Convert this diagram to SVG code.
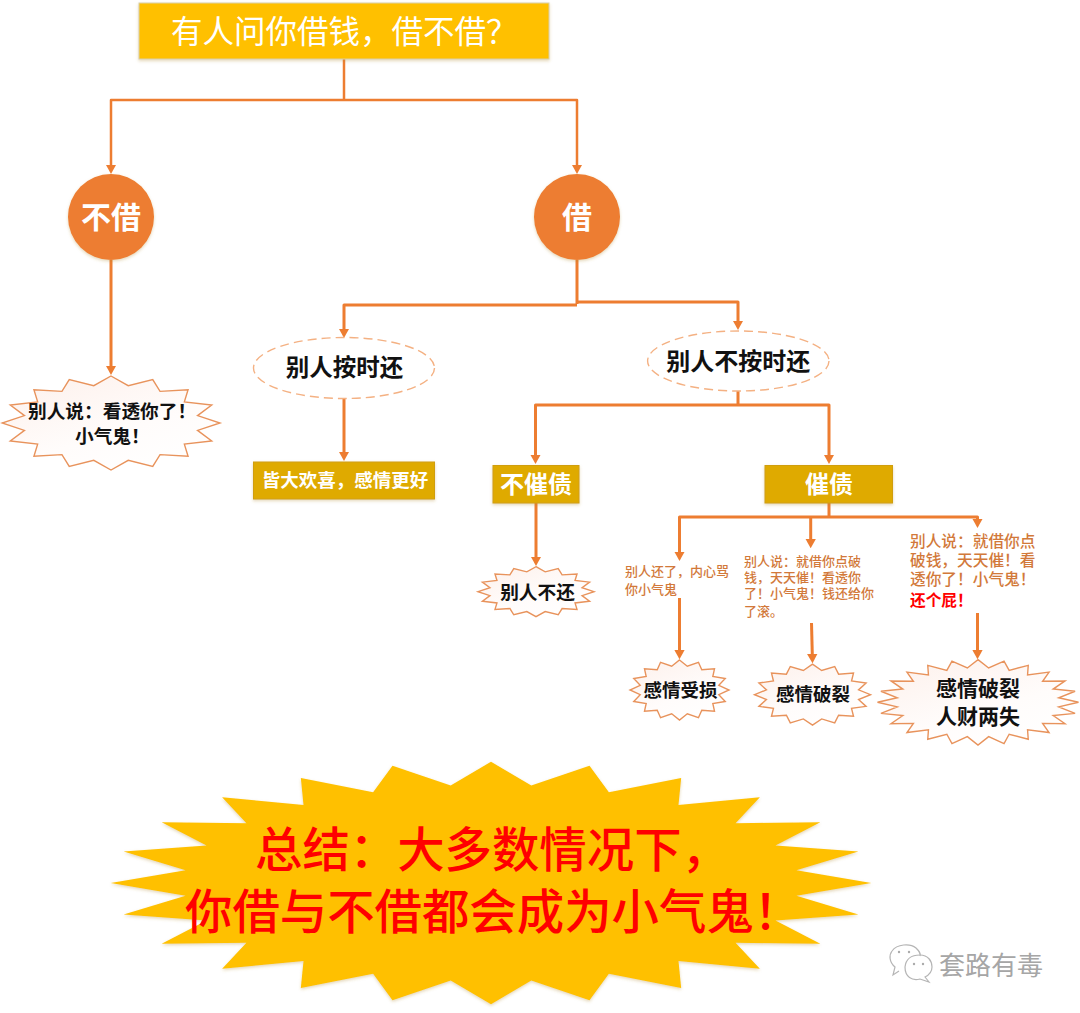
<svg xmlns="http://www.w3.org/2000/svg" xmlns:xlink="http://www.w3.org/1999/xlink" width="1080" height="1013" viewBox="0 0 1080 1013">
<style>
text{font-family:"Noto Sans CJK SC","Noto Sans",sans-serif;dominant-baseline:central}
.c{text-anchor:middle}
.b{font-weight:700}
.w{fill:#fff}
.k{fill:#111}
.o{fill:#D2793A;font-weight:500}
.line{fill:none;stroke:#ED7D31;stroke-width:3;stroke-linejoin:round}
.thin{stroke-width:2.5}
.arrow{marker-end:url(#arrow)}
.gold{fill:#DFAA00;stroke:#D09E10;stroke-width:1}
.dash{fill:#fff;stroke:#F4B183;stroke-width:1.4;stroke-dasharray:9 5}
.burst{fill:url(#pale);stroke:#E8935C;stroke-width:1.4}
.wm{fill:none;stroke:#B5B5B5;stroke-width:1.2}
</style>
<defs>
<marker id="arrow" markerUnits="userSpaceOnUse" markerWidth="9.500" markerHeight="10.500" viewBox="0 0 9.500 10.500" refX="1" refY="5.250" orient="auto">
<path d="M0 0L9.500 5.250L0 10.500z" fill="#ED7D31"/>
</marker>
<linearGradient id="pale" x1="0.1" y1="0" x2="0.8" y2="1">
<stop offset="0" stop-color="#FDF1EC"/><stop offset="0.6" stop-color="#FFFCFB"/><stop offset="1" stop-color="#FFFFFF"/>
</linearGradient>
<filter id="soft" x="-5%" y="-10%" width="110%" height="125%">
<feDropShadow dx="0" dy="1.5" stdDeviation="1.5" flood-color="#B08A30" flood-opacity="0.35"/>
</filter>
<polygon id="s16" vector-effect="non-scaling-stroke" points="0,-1 .158,-.794 .383,-.924 .45,-.673 .707,-.707 .673,-.45 .924,-.383 .794,-.158 1,0 .794,.158 .924,.383 .673,.45 .707,.707 .45,.673 .383,.924 .158,.794 0,1 -.158,.794 -.383,.924 -.45,.673 -.707,.707 -.673,.45 -.924,.383 -.794,.158 -1,0 -.794,-.158 -.924,-.383 -.673,-.45 -.707,-.707 -.45,-.673 -.383,-.924 -.158,-.794"/>
<polygon id="s24" vector-effect="non-scaling-stroke" points="0,-1 .106,-.803 .259,-.966 .31,-.748 .5,-.866 .493,-.643 .707,-.707 .643,-.493 .866,-.5 .748,-.31 .966,-.259 .803,-.106 1,0 .803,.106 .966,.259 .748,.31 .866,.5 .643,.493 .707,.707 .493,.643 .5,.866 .31,.748 .259,.966 .106,.803 0,1 -.106,.803 -.259,.966 -.31,.748 -.5,.866 -.493,.643 -.707,.707 -.643,.493 -.866,.5 -.748,.31 -.966,.259 -.803,.106 -1,0 -.803,-.106 -.966,-.259 -.748,-.31 -.866,-.5 -.643,-.493 -.707,-.707 -.493,-.643 -.5,-.866 -.31,-.748 -.259,-.966 -.106,-.803"/>
</defs>
<rect width="1080" height="1013" fill="#fff"/>

<g id="connectors">
<path class="line thin" d="M344 59V100"/>
<path class="line thin arrow" d="M344 100H111V165.500"/>
<path class="line thin arrow" d="M344 100H577V165.500"/>
<path class="line arrow" d="M111 260V366.500"/>
<path class="line" d="M577 260V304"/>
<path class="line arrow" d="M577 305H344V329.500"/>
<path class="line arrow" d="M577 302H738V321.500"/>
<path class="line arrow" d="M344 398V452.500"/>
<path class="line" d="M738 391V405"/>
<path class="line arrow" d="M738 405H535.500V455.500"/>
<path class="line arrow" d="M738 405H829V455.500"/>
<path class="line arrow" d="M536 503V557.500"/>
<path class="line" d="M829 503V517"/>
<path class="line arrow" d="M829 517H679.500V552.500"/>
<path class="line arrow" d="M810.700 517V539.800"/>
<path class="line arrow" d="M829 517H977.500V519.500"/>
<path class="line arrow" d="M679.500 598V650.800"/>
<path class="line arrow" d="M811.500 623L812.300 654.800"/>
<path class="line arrow" d="M977.500 613V650.800"/>
</g>

<g id="n-title">
<rect x="139" y="3" width="410" height="56" fill="#FFC000" stroke="#D9CFA8" stroke-width="1" filter="url(#soft)"/>
<text class="w" x="171" y="29" font-size="31.500">有人问你借钱&#xFF0C;借不借&#xFF1F;</text>
</g>
<g id="n-no">
<circle cx="111" cy="217" r="43" fill="#ED7D31" filter="url(#soft)"/>
<text class="w c b" x="111" y="215" font-size="30">不借</text>
</g>
<g id="n-yes">
<circle cx="577" cy="217" r="43" fill="#ED7D31" filter="url(#soft)"/>
<text class="w c b" x="577" y="215" font-size="30">借</text>
</g>
<g id="n-stingy">
<use xlink:href="#s16" href="#s16" class="burst" transform="translate(111 423) scale(109 47)"/>
<text class="k b" x="28" y="409" font-size="18.700">别人说&#xFF1A;看透你了&#xFF01;</text>
<text class="k b" x="75" y="434" font-size="18.700">小气鬼&#xFF01;</text>
</g>
<g id="n-ontime">
<ellipse class="dash" cx="344" cy="368" rx="90.500" ry="30.500"/>
<text class="k c b" x="344.500" y="366" font-size="23.500">别人按时还</text>
</g>
<g id="n-late">
<ellipse class="dash" cx="738.300" cy="361" rx="90.700" ry="30"/>
<text class="k c b" x="738.300" y="359" font-size="24">别人不按时还</text>
</g>
<g id="n-happy">
<rect class="gold" x="253.500" y="462" width="181" height="37" filter="url(#soft)"/>
<text class="w c b" x="345" y="479" font-size="18.500">皆大欢喜&#xFF0C;感情更好</text>
</g>
<g id="n-nopress">
<rect class="gold" x="493" y="465.500" width="86" height="37.500" filter="url(#soft)"/>
<text class="w c b" x="536" y="482" font-size="24">不催债</text>
</g>
<g id="n-press">
<rect class="gold" x="765" y="465.500" width="127.500" height="37.500" filter="url(#soft)"/>
<text class="w c b" x="829" y="482" font-size="24">催债</text>
</g>
<g id="n-norepay">
<use xlink:href="#s16" href="#s16" class="burst" transform="translate(536 591.700) scale(58 25)"/>
<text class="k c b" x="537.500" y="590.500" font-size="18.700">别人不还</text>
</g>
<g id="n-say1">
<text class="o" x="625" y="570.500" font-size="13">别人还了&#xFF0C;内心骂</text>
<text class="o" x="625" y="588" font-size="13">你小气鬼</text>
</g>
<g id="n-say2">
<text class="o" x="744" y="560.500" font-size="13">别人说&#xFF1A;就借你点破</text>
<text class="o" x="744" y="576.500" font-size="13">钱&#xFF0C;天天催&#xFF01;看透你</text>
<text class="o" x="744" y="592.500" font-size="13">了&#xFF01;小气鬼&#xFF01;钱还给你</text>
<text class="o" x="744" y="610" font-size="13">了滚。</text>
</g>
<g id="n-say3">
<text class="o" x="910" y="540.500" font-size="15.700">别人说&#xFF1A;就借你点</text>
<text class="o" x="910" y="559.500" font-size="15.700">破钱&#xFF0C;天天催&#xFF01;看</text>
<text class="o" x="910" y="578.500" font-size="15.700">透你了&#xFF01;小气鬼&#xFF01;</text>
<text class="b" x="910" y="599.500" font-size="15.700" fill="#FF0000">还个屁&#xFF01;</text>
</g>
<g id="n-hurt">
<use xlink:href="#s16" href="#s16" class="burst" transform="translate(679.500 690) scale(49.500 30)"/>
<text class="k c b" x="680.500" y="688.500" font-size="18.500">感情受损</text>
</g>
<g id="n-broken">
<use xlink:href="#s16" href="#s16" class="burst" transform="translate(812.500 694.700) scale(58 30.500)"/>
<text class="k c b" x="813" y="693" font-size="18.500">感情破裂</text>
</g>
<g id="n-lost">
<use xlink:href="#s24" href="#s24" class="burst" transform="translate(978 702.300) scale(100.500 42.700)"/>
<text class="k c b" x="978" y="686.500" font-size="21">感情破裂</text>
<text class="k c b" x="978" y="715" font-size="21">人财两失</text>
</g>
<g id="n-summary">
<g filter="url(#soft)"><use xlink:href="#s24" href="#s24" fill="#FFC000" transform="translate(491 883) scale(380.300 121.300)"/></g>
<text x="255" y="846.500" font-size="47.400" fill="#FF0000" font-weight="500">总结&#xFF1A;大多数情况下&#xFF0C;</text>
<text x="185" y="908.500" font-size="47.400" fill="#FF0000" font-weight="500">你借与不借都会成为小气鬼&#xFF01;</text>
</g>
<g id="watermark">
<path class="wm" d="M899 971L893 975L895 967C889 962 889 955 892 951C897 944 910 943 916 948C919 951 921 953 920 956"/>
<path class="wm" fill="#fff" d="M925 977L929 982L920 979C912 981 905 977 905 967C906 958 913 955 920 955C928 955 932 961 932 967C932 971 929 975 925 977Z"/>
<circle cx="899" cy="952" r="1.200" fill="#AAA"/><circle cx="909" cy="952" r="1.200" fill="#AAA"/>
<circle cx="914" cy="964" r="1.200" fill="#AAA"/><circle cx="923" cy="964" r="1.200" fill="#AAA"/>
<text x="939" y="963" font-size="26" fill="#A6A6A6">套路有毒</text>
</g>
</svg>
